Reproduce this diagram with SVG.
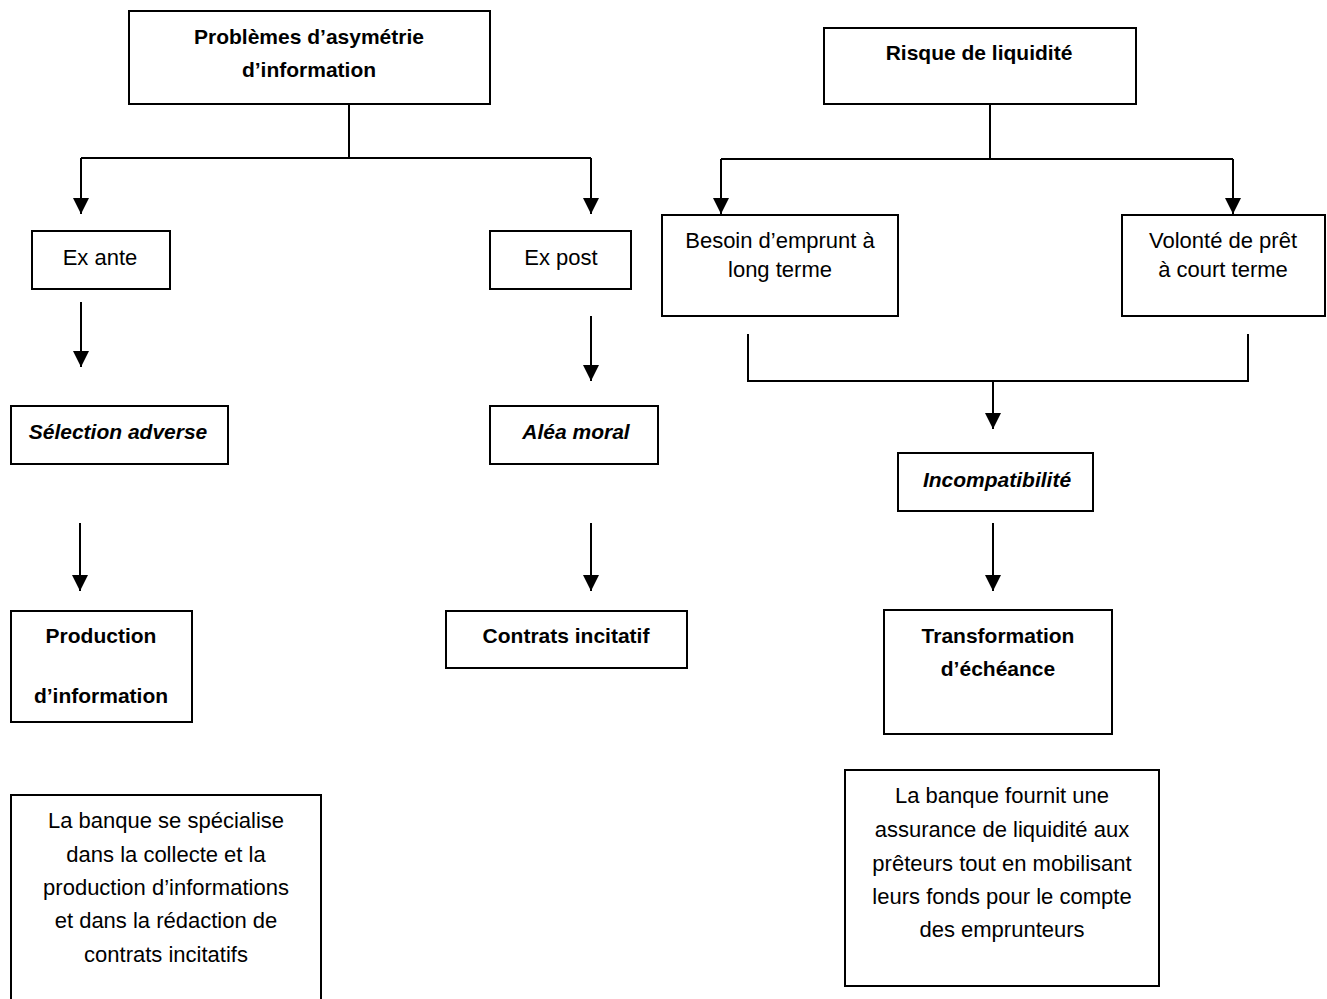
<svg xmlns="http://www.w3.org/2000/svg" width="1327" height="999" viewBox="0 0 1327 999">
<style>
.box{fill:#fff;stroke:#000;stroke-width:2}
.ln{fill:none;stroke:#000;stroke-width:2}
text{font-family:"Liberation Sans",Arial,sans-serif;font-size:22px;fill:#000;text-anchor:middle}
.b{font-weight:bold;font-size:21px}
.bi{font-weight:bold;font-style:italic;font-size:21px}
</style>
<defs>
<marker id="a" markerUnits="userSpaceOnUse" markerWidth="16" markerHeight="16" refX="16" refY="8" orient="auto" viewBox="0 0 16 16">
<path d="M0,0 L16,8 L0,16 Z" fill="#000"/>
</marker>
</defs>
<rect width="1327" height="999" fill="#fff"/>
<g id="connectors">
<path class="ln" d="M349,104 V158"/>
<path class="ln" d="M81,158 H591"/>
<path class="ln" d="M81,158 V214" marker-end="url(#a)"/>
<path class="ln" d="M591,158 V214" marker-end="url(#a)"/>
<path class="ln" d="M81,302 V367" marker-end="url(#a)"/>
<path class="ln" d="M591,316 V381" marker-end="url(#a)"/>
<path class="ln" d="M80,523 V591" marker-end="url(#a)"/>
<path class="ln" d="M591,523 V591" marker-end="url(#a)"/>
<path class="ln" d="M990,104 V159"/>
<path class="ln" d="M721,159 H1233"/>
<path class="ln" d="M721,159 V214" marker-end="url(#a)"/>
<path class="ln" d="M1233,159 V214" marker-end="url(#a)"/>
<path class="ln" d="M748,334 V381 H1248 V334"/>
<path class="ln" d="M993,381 V429" marker-end="url(#a)"/>
<path class="ln" d="M993,523 V591" marker-end="url(#a)"/>
</g>
<g id="n1"><rect class="box" x="129" y="11" width="361" height="93"/>
<text class="b" x="309" y="44">Problèmes d’asymétrie</text>
<text class="b" x="309" y="77">d’information</text></g>
<g id="n2"><rect class="box" x="32" y="231" width="138" height="58"/>
<text x="100" y="265">Ex ante</text></g>
<g id="n3"><rect class="box" x="490" y="231" width="141" height="58"/>
<text x="561" y="265">Ex post</text></g>
<g id="n4"><rect class="box" x="11" y="406" width="217" height="58"/>
<text class="bi" x="118" y="439">Sélection adverse</text></g>
<g id="n5"><rect class="box" x="490" y="406" width="168" height="58"/>
<text class="bi" x="576" y="439">Aléa moral</text></g>
<g id="n6"><rect class="box" x="11" y="611" width="181" height="111"/>
<text class="b" x="101" y="643">Production</text>
<text class="b" x="101" y="703">d’information</text></g>
<g id="n7"><rect class="box" x="446" y="611" width="241" height="57"/>
<text class="b" x="566" y="643">Contrats incitatif</text></g>
<g id="n8"><rect class="box" x="11" y="795" width="310" height="220"/>
<text x="166" y="828">La banque se spécialise</text>
<text x="166" y="862">dans la collecte et la</text>
<text x="166" y="895">production d’informations</text>
<text x="166" y="928">et dans la rédaction de</text>
<text x="166" y="962">contrats incitatifs</text></g>
<g id="n9"><rect class="box" x="824" y="28" width="312" height="76"/>
<text class="b" x="979" y="60">Risque de liquidité</text></g>
<g id="n10"><rect class="box" x="662" y="215" width="236" height="101"/>
<text x="780" y="248">Besoin d’emprunt à</text>
<text x="780" y="277">long terme</text></g>
<g id="n11"><rect class="box" x="1122" y="215" width="203" height="101"/>
<text x="1223" y="248">Volonté de prêt</text>
<text x="1223" y="277">à court terme</text></g>
<g id="n12"><rect class="box" x="898" y="453" width="195" height="58"/>
<text class="bi" x="997" y="487">Incompatibilité</text></g>
<g id="n13"><rect class="box" x="884" y="610" width="228" height="124"/>
<text class="b" x="998" y="643">Transformation</text>
<text class="b" x="998" y="676">d’échéance</text></g>
<g id="n14"><rect class="box" x="845" y="770" width="314" height="216"/>
<text x="1002" y="803">La banque fournit une</text>
<text x="1002" y="837">assurance de liquidité aux</text>
<text x="1002" y="871">prêteurs tout en mobilisant</text>
<text x="1002" y="904">leurs fonds pour le compte</text>
<text x="1002" y="937">des emprunteurs</text></g>
</svg>
